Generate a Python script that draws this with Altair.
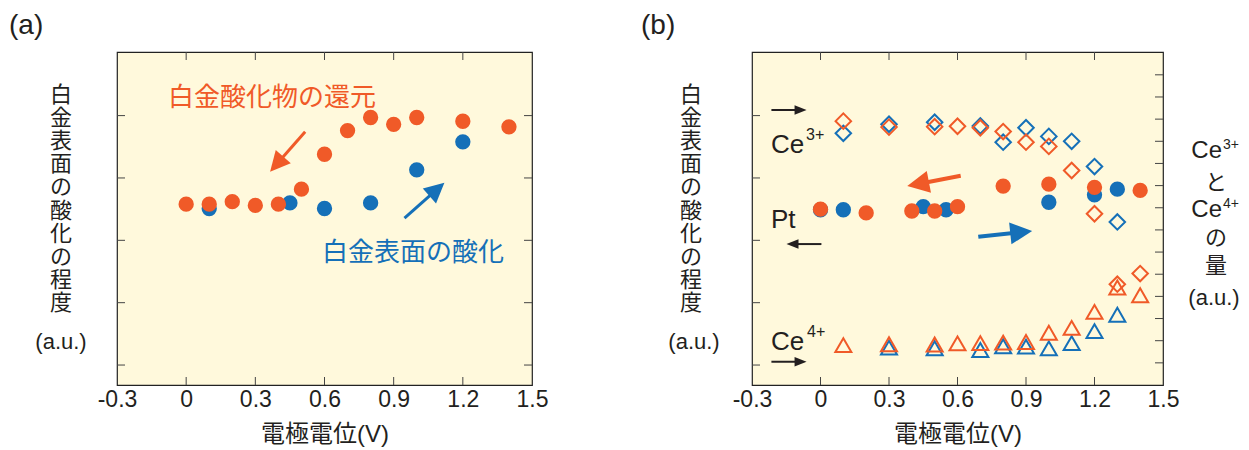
import math
import altair as alt
import pandas as pd

# ---------------- data ----------------
x_label_values = [-0.3, 0.0, 0.3, 0.6, 0.9, 1.2, 1.5]
x_ticks = [0.0, 0.3, 0.6, 0.9, 1.2]
pt_ticks = [0, 1, 2, 3, 4]
ce_ticks = list(range(1, 15))

# (a) Pt surface oxidation
a_red_x = [0.0, 0.1, 0.2, 0.3, 0.4, 0.5, 0.6, 0.7, 0.8, 0.9, 1.0, 1.2, 1.4]
a_red_y = [2.58, 2.58, 2.62, 2.56, 2.58, 2.82, 3.38, 3.76, 3.97, 3.86, 3.97, 3.91, 3.82]
a_blue_x = [0.1, 0.45, 0.6, 0.8, 1.0, 1.2]
a_blue_y = [2.51, 2.60, 2.51, 2.60, 3.13, 3.58]

# (b) Pt
b_pt_red_x = [0.0, 0.2, 0.4, 0.5, 0.6, 0.8, 1.0, 1.2, 1.4]
b_pt_red_y = [2.50, 2.44, 2.47, 2.47, 2.54, 2.87, 2.90, 2.85, 2.80]
b_pt_blue_x = [0.0, 0.1, 0.45, 0.55, 1.0, 1.2, 1.3]
b_pt_blue_y = [2.49, 2.49, 2.54, 2.49, 2.61, 2.73, 2.82]
# (b) Ce3+
ce3_red_x = [0.1, 0.3, 0.5, 0.6, 0.7, 0.8, 0.9, 1.0, 1.1, 1.2, 1.3, 1.4]
ce3_red_y = [11.91, 11.64, 11.66, 11.68, 11.61, 11.44, 10.96, 10.77, 9.68, 7.73, 4.55, 5.03]
ce3_blue_x = [0.1, 0.3, 0.5, 0.7, 0.8, 0.9, 1.0, 1.1, 1.2, 1.3]
ce3_blue_y = [11.36, 11.77, 11.86, 11.69, 10.96, 11.61, 11.22, 11.0, 9.86, 7.36]
# (b) Ce4+
ce4_red_x = [0.1, 0.3, 0.5, 0.6, 0.7, 0.8, 0.9, 1.0, 1.1, 1.2, 1.3, 1.4]
ce4_red_y = [1.80, 1.84, 1.83, 1.88, 1.89, 1.91, 1.94, 2.36, 2.58, 3.30, 4.40, 4.05]
ce4_blue_x = [0.3, 0.5, 0.7, 0.8, 0.9, 1.0, 1.1, 1.2, 1.3]
ce4_blue_y = [1.69, 1.66, 1.58, 1.75, 1.73, 1.65, 1.89, 2.43, 3.17]

# annotation arrows: [tail x, tail y, tip x, tip y] in data units
a_arrow_red = [0.516, 3.741, 0.364, 3.100]
a_arrow_blue = [0.947, 2.357, 1.120, 2.923]
b_arrow_red = [0.614, 3.036, 0.380, 2.870]
b_arrow_blue = [0.691, 2.057, 0.927, 2.149]
b_arrow_ce3 = [-0.215, 4.09, -0.061, 4.09]
b_arrow_pt = [0.004, 1.94, -0.149, 1.94]
b_arrow_ce4 = [-0.215, 0.053, -0.061, 0.053]

# ---------------- style ----------------
RED = "#F05A28"
BLUE = "#1570B8"
INK = "#231F20"
BG = "#FFF9DC"
TICK = "#444444"
FONT_NUM = "Liberation Sans, Noto Sans CJK JP, sans-serif"
FONT_JP = "Noto Sans CJK JP, sans-serif"
FONT_LAT = "Liberation Sans, Arial, sans-serif"

W_A, W_B, H = 415, 411, 333
X_DOM = [-0.3, 1.5]
PT_DOM = [-0.32, 5.02]
CE_DOM = [0, 15.03]

label_expr = ("datum.value < 0 ? '-' + format(-datum.value, '.1f') : "
              "(datum.value == 0 ? '0' : format(datum.value, '.1f'))")

x_axis = alt.Axis(values=x_label_values, labelExpr=label_expr, labelFont=FONT_NUM,
                  labelFontSize=23, labelColor=INK, labelPadding=3, labelFlush=False,
                  labelOverlap=False, labelBaseline="top", ticks=False, domain=False,
                  grid=False, title="電極電位(V)", titleFont=FONT_NUM, titleFontSize=24,
                  titleFontWeight="normal", titleColor=INK, titleBaseline="middle",
                  titleY=49)


def xenc(width):
    return alt.X("x:Q", scale=alt.Scale(domain=X_DOM, nice=False, zero=False), axis=x_axis)


def yenc(dom):
    return alt.Y("y:Q", scale=alt.Scale(domain=dom, nice=False, zero=False), axis=None)


def txt(text, px, py, size, color=INK, font=FONT_JP, align="center", baseline="middle",
        line_height=None):
    kw = dict(text=text, fontSize=size, color=color, font=font, align=align, baseline=baseline)
    if line_height is not None:
        kw["lineHeight"] = line_height
    return alt.Chart().mark_text(**kw).encode(x=alt.value(px), y=alt.value(py))


def frame_ticks(width, dom, yticks, right_dom=None, right_ticks=None):
    layers = []
    tx = pd.DataFrame({"x": x_ticks})
    layers.append(alt.Chart(tx).mark_rule(color=TICK, strokeWidth=1).encode(
        x=xenc(width), y=alt.value(H), y2=alt.value(H - 8)))
    layers.append(alt.Chart(tx).mark_rule(color=TICK, strokeWidth=1).encode(
        x=xenc(width), y=alt.value(0), y2=alt.value(8)))
    ty = pd.DataFrame({"y": yticks})
    layers.append(alt.Chart(ty).mark_rule(color=TICK, strokeWidth=1).encode(
        y=yenc(dom), x=alt.value(0), x2=alt.value(8)))
    rd = right_dom if right_dom is not None else dom
    rt = right_ticks if right_ticks is not None else yticks
    tr = pd.DataFrame({"y": rt})
    layers.append(alt.Chart(tr).mark_rule(color=TICK, strokeWidth=1).encode(
        y=yenc(rd), x=alt.value(width), x2=alt.value(width - 8)))
    return layers


def arrow(spec, width, dom, color, head_len, head_ratio, stroke):
    x0, y0, x1, y1 = spec
    sx = width / (X_DOM[1] - X_DOM[0])
    sy = H / (dom[1] - dom[0])
    dxp = (x1 - x0) * sx
    dyp = -(y1 - y0) * sy
    L = math.hypot(dxp, dyp)
    ux, uy = dxp / L, dyp / L
    cx = x1 - (head_len / 2) * ux / sx
    cy = y1 + (head_len / 2) * uy / sy
    ang = math.degrees(math.atan2(ux, -uy)) % 360
    line_df = pd.DataFrame({"x": [x0], "y": [y0], "x2": [cx], "y2": [cy]})
    head_df = pd.DataFrame({"x": [cx], "y": [cy], "angle": [ang]})
    a = head_ratio
    shape = f"M0,-1L{a},1L{-a},1Z"
    line = alt.Chart(line_df).mark_rule(color=color, strokeWidth=stroke, strokeCap="butt").encode(
        x=xenc(width), y=yenc(dom), x2="x2:Q", y2="y2:Q")
    head = alt.Chart(head_df).mark_point(shape=shape, filled=True, opacity=1, color=color,
                                         size=head_len ** 2, strokeWidth=0).encode(
        x=xenc(width), y=yenc(dom), angle=alt.Angle("angle:Q", scale=None))
    return [line, head]


def circles(xs, ys, width, dom, color):
    return alt.Chart(pd.DataFrame({"x": xs, "y": ys})).mark_circle(
        size=235, opacity=1, color=color).encode(x=xenc(width), y=yenc(dom))


def hollow(xs, ys, width, dom, color, shape, size):
    return alt.Chart(pd.DataFrame({"x": xs, "y": ys})).mark_point(
        shape=shape, size=size, filled=False, opacity=1, strokeWidth=2, color=color).encode(
        x=xenc(width), y=yenc(dom))


ytitle_lines = ["白", "金", "表", "面", "の", "酸", "化", "の", "程", "度"]

# ---------------- panel (a) ----------------
a_layers = frame_ticks(W_A, PT_DOM, pt_ticks)
a_layers += [circles(a_blue_x, a_blue_y, W_A, PT_DOM, BLUE),
             circles(a_red_x, a_red_y, W_A, PT_DOM, RED)]
a_layers += arrow(a_arrow_red, W_A, PT_DOM, RED, 20, 1.0, 3)
a_layers += arrow(a_arrow_blue, W_A, PT_DOM, BLUE, 20, 1.0, 3)
a_layers += [
    txt("白金酸化物の還元", 51, 46, 26, RED, align="left"),
    txt("白金表面の酸化", 205, 201, 26, BLUE, align="left"),
    txt(ytitle_lines, -56, 43, 22, line_height=23.1),
    txt("(a.u.)", -56, 290, 22, font=FONT_LAT),
    txt("(a)", -108, -26, 28, font=FONT_LAT, align="left"),
]
panel_a = alt.layer(*a_layers).properties(width=W_A, height=H)

# ---------------- panel (b) ----------------
b_layers = frame_ticks(W_B, PT_DOM, pt_ticks, CE_DOM, ce_ticks)
b_layers += [
    hollow(ce3_blue_x, ce3_blue_y, W_B, CE_DOM, BLUE, "diamond", 240),
    hollow(ce3_red_x, ce3_red_y, W_B, CE_DOM, RED, "diamond", 240),
    hollow(ce4_blue_x, ce4_blue_y, W_B, CE_DOM, BLUE, "triangle-up", 256),
    hollow(ce4_red_x, ce4_red_y, W_B, CE_DOM, RED, "triangle-up", 256),
    circles(b_pt_blue_x, b_pt_blue_y, W_B, PT_DOM, BLUE),
    circles(b_pt_red_x, b_pt_red_y, W_B, PT_DOM, RED),
]
b_layers += arrow(b_arrow_red, W_B, PT_DOM, RED, 22, 1.0, 4)
b_layers += arrow(b_arrow_blue, W_B, PT_DOM, BLUE, 22, 1.0, 4)
b_layers += arrow(b_arrow_ce3, W_B, PT_DOM, INK, 12, 0.8, 2)
b_layers += arrow(b_arrow_pt, W_B, PT_DOM, INK, 12, 0.8, 2)
b_layers += arrow(b_arrow_ce4, W_B, PT_DOM, INK, 12, 0.8, 2)
b_layers += [
    txt("Ce", 19, 101, 26, font=FONT_LAT, align="left", baseline="alphabetic"),
    txt("3+", 54, 88, 16, font=FONT_LAT, align="left", baseline="alphabetic"),
    txt("Pt", 19, 176, 26, font=FONT_LAT, align="left", baseline="alphabetic"),
    txt("Ce", 19, 298, 26, font=FONT_LAT, align="left", baseline="alphabetic"),
    txt("4+", 55, 285, 16, font=FONT_LAT, align="left", baseline="alphabetic"),
    txt(ytitle_lines, -61, 43, 22, line_height=23.1),
    txt("(a.u.)", -58, 290, 22, font=FONT_LAT),
    txt("(b)", -111, -26, 28, font=FONT_LAT, align="left"),
    # right axis title
    txt("Ce", 470, 106, 24, font=FONT_LAT, align="right", baseline="alphabetic"),
    txt("3+", 471, 97, 14, font=FONT_LAT, align="left", baseline="alphabetic"),
    txt("と", 464, 131, 22),
    txt("Ce", 470, 165, 24, font=FONT_LAT, align="right", baseline="alphabetic"),
    txt("4+", 471, 156, 14, font=FONT_LAT, align="left", baseline="alphabetic"),
    txt("の", 464, 186, 22),
    txt("量", 464, 214, 22),
    txt("(a.u.)", 462, 246, 22, font=FONT_LAT),
]
panel_b = alt.layer(*b_layers).resolve_scale(y="independent").properties(width=W_B, height=H)

chart = alt.hconcat(panel_a, panel_b, spacing=220, bounds="flush").properties(
    padding={"left": 0, "top": 3, "right": 0, "bottom": 0}
).configure_view(fill=BG, stroke="#222222", strokeWidth=1.2)

chart.save("out.html", embed_options={"renderer": "svg", "actions": False})
